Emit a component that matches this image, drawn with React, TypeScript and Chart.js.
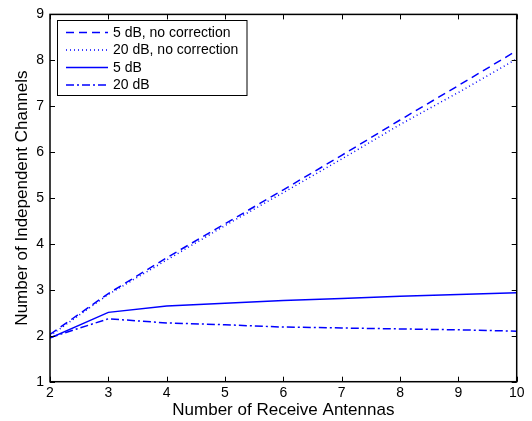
import React, { useEffect, useRef } from "react";
import { Chart, registerables } from "chart.js";

Chart.register(...registerables);

const antennas = [2, 3, 4, 5, 6, 7, 8, 9, 10];
const fiveDbNoCorr = [2.03, 2.92, 3.7, 4.44, 5.18, 5.93, 6.7, 7.45, 8.21];
const twentyDbNoCorr = [2.0, 2.9, 3.65, 4.4, 5.12, 5.85, 6.6, 7.3, 8.03];
const fiveDb = [1.95, 2.51, 2.65, 2.71, 2.77, 2.81, 2.86, 2.9, 2.94];
const twentyDb = [1.96, 2.37, 2.28, 2.24, 2.19, 2.17, 2.15, 2.13, 2.1];
const seriesLabels = ["5 dB, no correction", "20 dB, no correction", "5 dB", "20 dB"];
const seriesDashes = [[8, 5], [1, 3], [], [8, 3, 2, 3]];

const FONT = "'Liberation Sans', Arial, Helvetica, sans-serif";

const boxPlugin = {
  id: "matlabBox",
  afterDraw(chart: any) {
    const { ctx, chartArea } = chart;
    const { left, right, top, bottom } = chartArea;
    const xs = chart.scales.x;
    const ys = chart.scales.y;
    ctx.save();
    ctx.strokeStyle = "#000";
    ctx.lineWidth = 1;
    const tl = 5;
    xs.ticks.forEach((t: any) => {
      const px = Math.round(xs.getPixelForValue(t.value)) + 0.5;
      ctx.beginPath();
      ctx.moveTo(px, bottom);
      ctx.lineTo(px, bottom - tl);
      ctx.moveTo(px, top);
      ctx.lineTo(px, top + tl);
      ctx.stroke();
    });
    ys.ticks.forEach((t: any) => {
      const py = Math.round(ys.getPixelForValue(t.value)) + 0.5;
      ctx.beginPath();
      ctx.moveTo(left, py);
      ctx.lineTo(left + tl, py);
      ctx.moveTo(right, py);
      ctx.lineTo(right - tl, py);
      ctx.stroke();
    });
    ctx.lineWidth = 1.5;
    ctx.strokeRect(left, top, right - left, bottom - top);

    const lx = 57.5, ly = 20.5, lw = 189.5, lh = 75;
    ctx.fillStyle = "#fff";
    ctx.fillRect(lx, ly, lw, lh);
    ctx.lineWidth = 1;
    ctx.strokeStyle = "#000";
    ctx.strokeRect(lx, ly, lw, lh);
    const rowY = [32.5, 50, 67.5, 85];
    ctx.font = `14px ${FONT}`;
    ctx.textBaseline = "middle";
    ctx.textAlign = "left";
    chart.data.datasets.forEach((ds: any, i: number) => {
      ctx.beginPath();
      ctx.strokeStyle = ds.borderColor;
      ctx.lineWidth = ds.borderWidth;
      ctx.setLineDash(ds.borderDash || []);
      ctx.moveTo(66, rowY[i]);
      ctx.lineTo(108, rowY[i]);
      ctx.stroke();
      ctx.setLineDash([]);
      ctx.fillStyle = "#000";
      ctx.fillText(ds.label, 113, rowY[i] + 0.5);
    });
    ctx.restore();
  },
};

export default function App() {
  const ref = useRef<HTMLCanvasElement | null>(null);
  useEffect(() => {
    if (!ref.current) return;
    const datasets = [fiveDbNoCorr, twentyDbNoCorr, fiveDb, twentyDb].map((vals, i) => ({
      label: seriesLabels[i],
      data: antennas.map((a, j) => ({ x: a, y: vals[j] })),
      borderColor: "#0000ff",
      backgroundColor: "#0000ff",
      borderWidth: 1.5,
      borderDash: seriesDashes[i],
      pointRadius: 0,
      fill: false,
      tension: 0,
    }));
    const chart = new Chart(ref.current, {
      type: "line",
      data: { datasets },
      options: {
        animation: false,
        responsive: false,
        devicePixelRatio: 1,
        layout: { padding: { left: 0, top: 13.5, right: 15.3, bottom: 0 } },
        plugins: { legend: { display: false }, tooltip: { enabled: false } },
        scales: {
          x: {
            type: "linear",
            min: 2,
            max: 10,
            afterFit: (s: any) => { s.height = 39.3; },
            grid: { display: false, drawTicks: false },
            border: { display: false },
            ticks: { stepSize: 1, padding: 3, color: "#000", font: { family: FONT, size: 14 } },
            title: {
              display: true,
              text: "Number of Receive Antennas",
              color: "#000",
              font: { family: FONT, size: 17 },
              padding: { top: 0, bottom: 0 },
            },
          },
          y: {
            type: "linear",
            min: 1,
            max: 9,
            afterFit: (s: any) => { s.width = 50; },
            grid: { display: false, drawTicks: false },
            border: { display: false },
            ticks: { stepSize: 1, padding: 6, color: "#000", font: { family: FONT, size: 14 } },
            title: {
              display: true,
              text: "Number of Independent Channels",
              color: "#000",
              font: { family: FONT, size: 17 },
              padding: { top: 12.5, bottom: 0 },
            },
          },
        },
      },
      plugins: [boxPlugin],
    } as any);
    return () => chart.destroy();
  }, []);
  return (
    <div style={{ position: "fixed", left: 0, top: 0, width: 532, height: 421, background: "#fff" }}>
      <canvas ref={ref} width={532} height={421} style={{ width: 532, height: 421 }} />
    </div>
  );
}
